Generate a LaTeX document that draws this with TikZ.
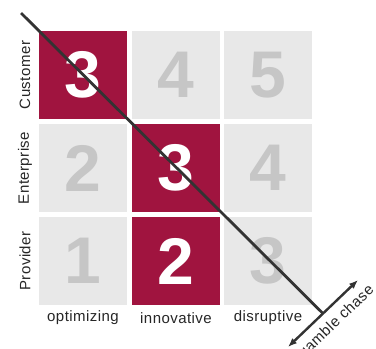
\documentclass[tikz,border=0pt]{standalone}
\usepackage{fontspec}
\setmainfont{Liberation Sans}
\newfontfamily\labelfont{Liberation Sans}[LetterSpace=3]
\usepackage{tikz}
\usetikzlibrary{arrows.meta,
                positioning, calc}

\definecolor{crimson}{HTML}{A0143F}
\definecolor{cellgray}{HTML}{E8E8E8}
\definecolor{digitgray}{HTML}{C6C6C6}
\definecolor{linegray}{HTML}{333333}

\tikzset{
    cell/.style={minimum size=88pt, inner sep=0pt, fill=cellgray, text=digitgray,
                 font=\fontsize{66}{66}\selectfont\bfseries},
    hot/.style={cell, fill=crimson, text=white},
    axislabel/.style={font=\labelfont\fontsize{15}{17}\selectfont, text=black!85}
}

\begin{document}
\begin{tikzpicture}[x=1pt,y=-1pt]
        \useasboundingbox (0,0) rectangle (376,349);

        % top row
        \node[hot]  (c13) at (83,75)   {3};
        \node[cell] (c23) at (176,75)  {4};
        \node[cell] (c33) at (268,75)  {5};
        % middle row
        \node[cell] (c12) at (83,168)  {2};
        \node[hot]  (c22) at (176,168) {3};
        \node[cell] (c32) at (268,168) {4};
        % bottom row
        \node[cell] (c11) at (83,261)  {1};
        \node[hot]  (c21) at (176,261) {2};
        \node[cell] (c31) at (268,261) {3};

        \node[axislabel, rotate=90] (customer)   at (25,75)  {Customer};
        \node[axislabel, rotate=90] (enterprise) at (25,168) {Enterprise};
        \node[axislabel, rotate=90] (provider)   at (25,261) {Provider};

        \node[axislabel] (optimizing) at (83,318)  {optimizing};
        \node[axislabel] (innovative) at (176,318) {innovative};
        \node[axislabel] (disruptive) at (268,318) {disruptive};

        % gamble axis
        \coordinate (g0) at (288,347);
        \coordinate (g1) at (358,280);
        \draw[{Latex[length=9pt,width=7pt]}-{Latex[length=9pt,width=7pt]}, linegray, line width=2.4pt]
            (g0) -- (g1) node[midway, sloped, below, axislabel, yshift=-4pt, xshift=4pt] {gamble chase};

        % diagonal
        \coordinate (d0) at (21,13);
        \draw[linegray, line width=2.8pt] (d0) -- ($(g0)!0.5!(g1)$);
\end{tikzpicture}
\end{document}
